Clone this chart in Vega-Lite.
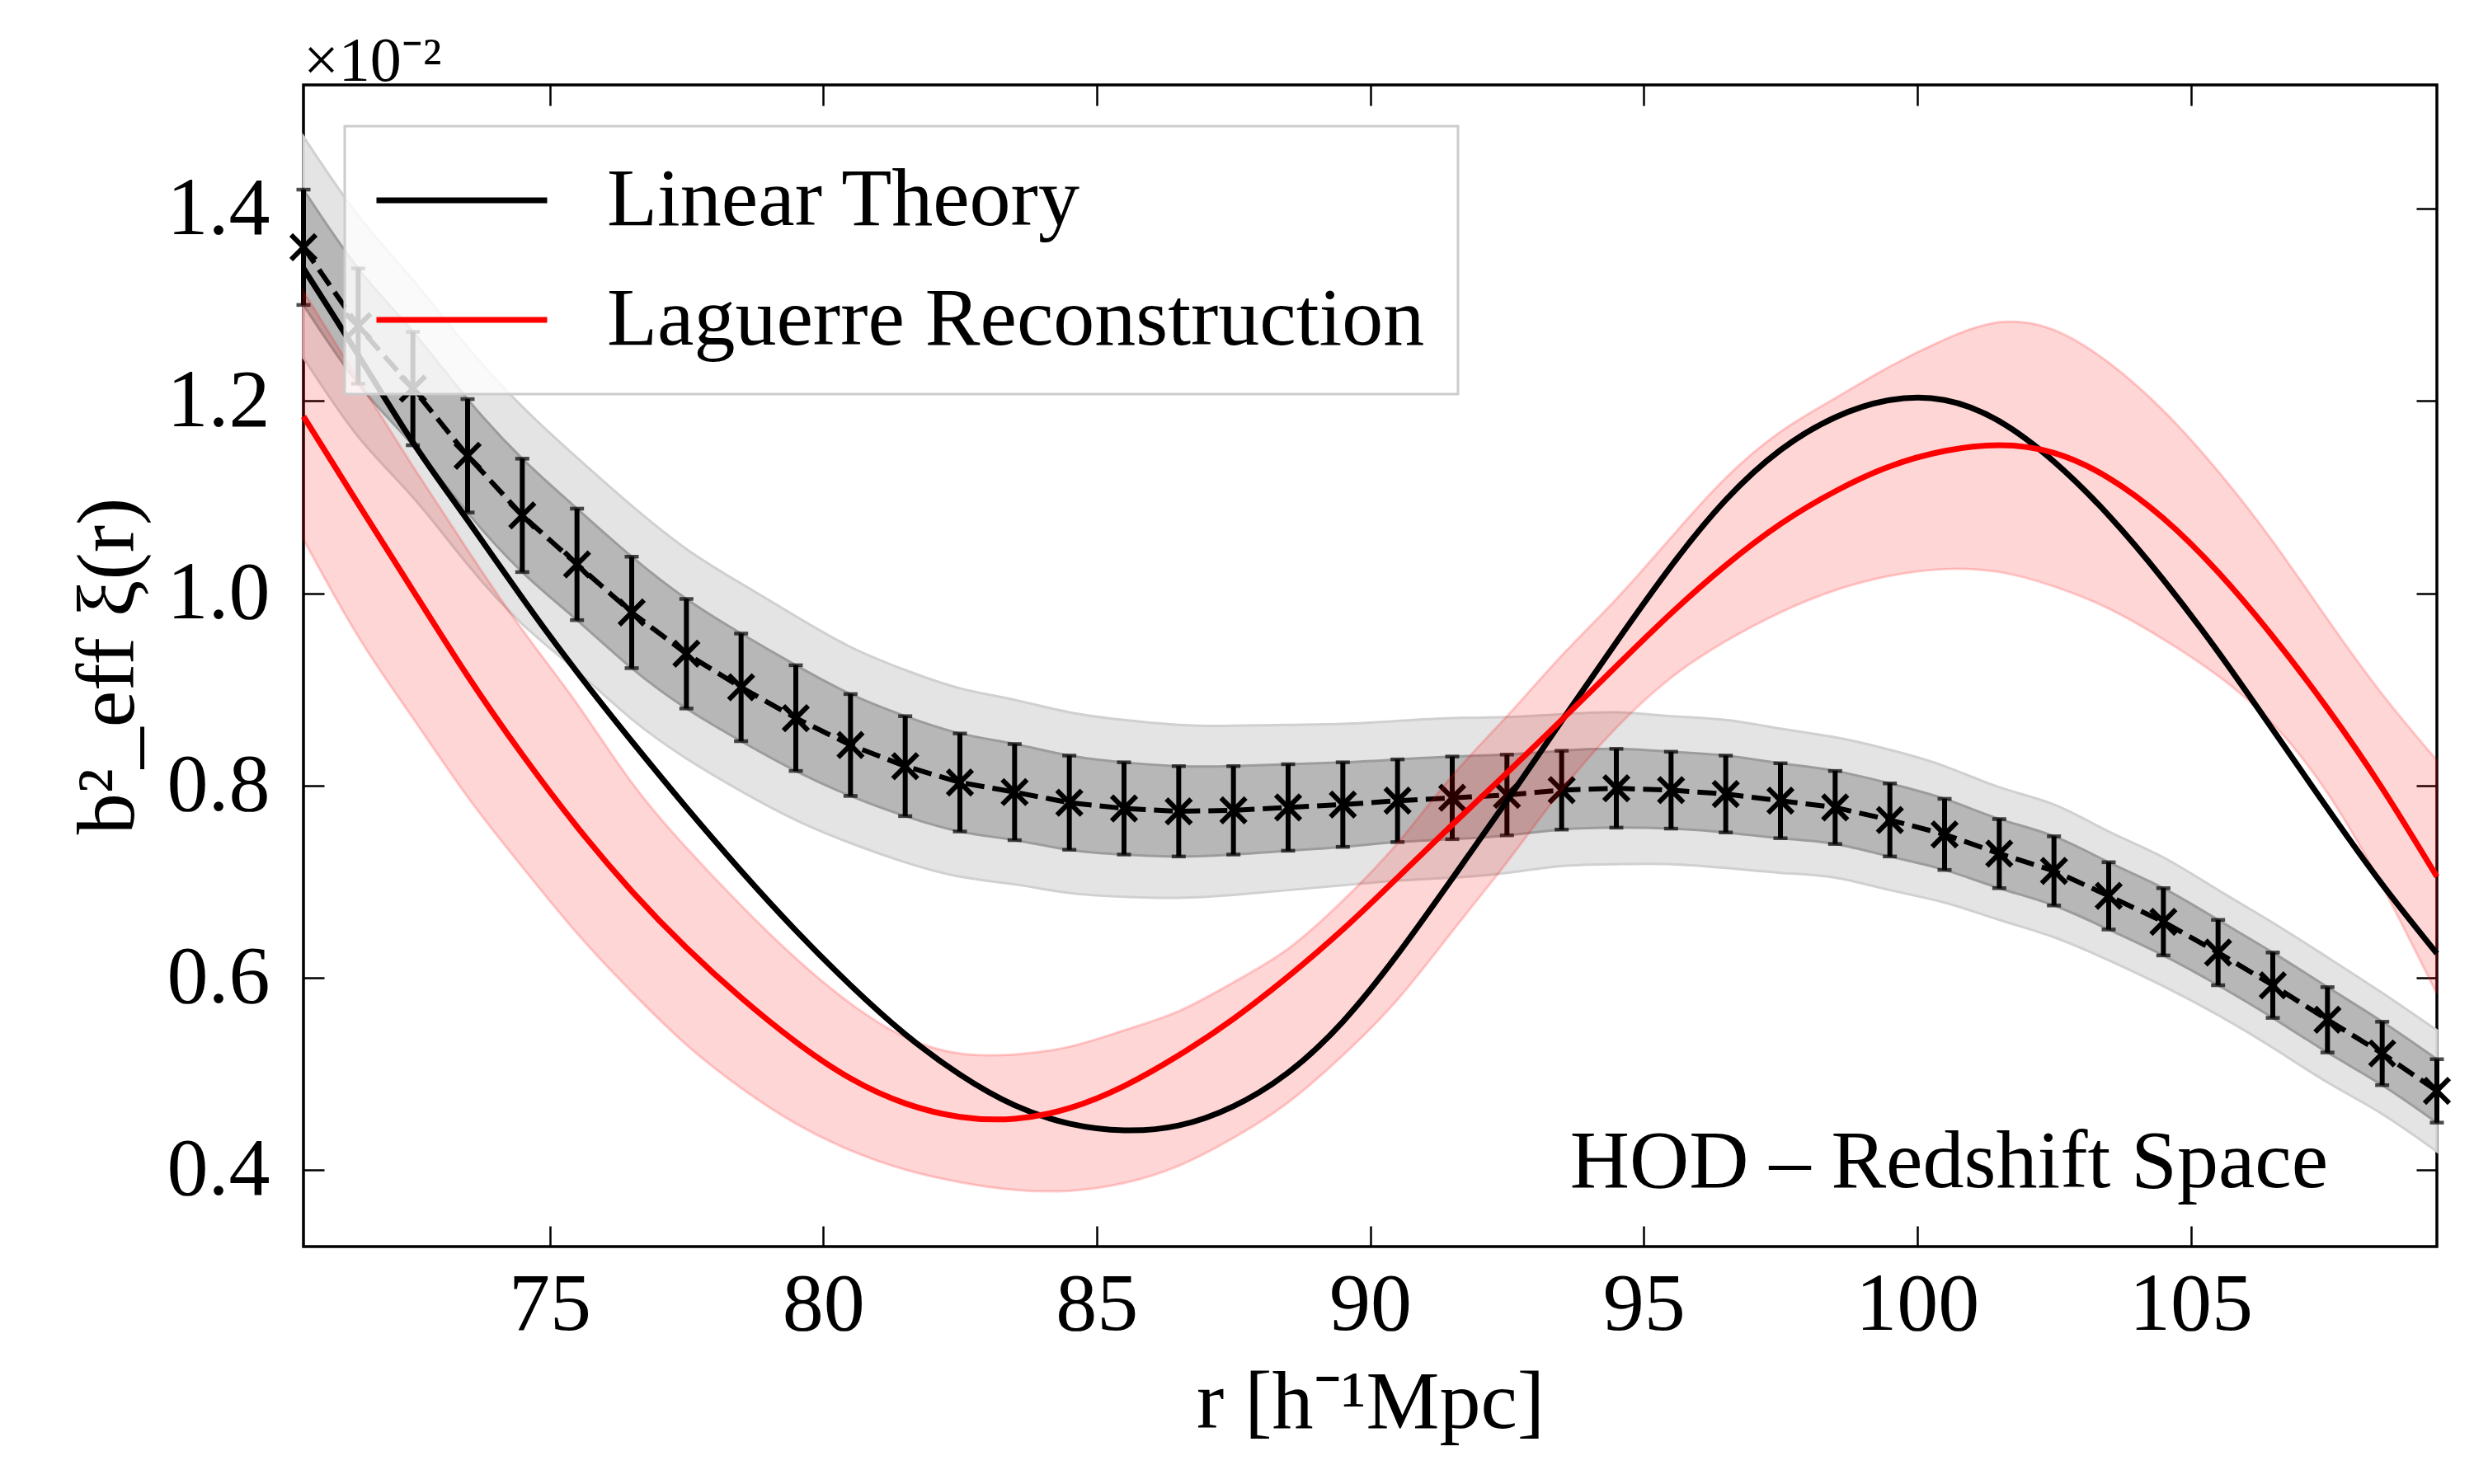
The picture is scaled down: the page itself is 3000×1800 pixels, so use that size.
{
  "$schema": "https://vega.github.io/schema/vega-lite/v6.json",
  "width": 2587,
  "height": 1409,
  "autosize": {"type": "none"},
  "padding": {"left": 368, "top": 103, "right": 45, "bottom": 288},
  "background": "white",
  "title": {"text": "×10⁻²", "anchor": "start", "frame": "group", "fontSize": 76, "fontWeight": "normal", "font": "Liberation Serif, serif", "offset": -12, "color": "black"},
  "config": {
    "font": "Liberation Serif, serif",
    "view": {"stroke": "black", "strokeWidth": 3.5},
    "axis": {
      "domain": false, "grid": false,
      "tickColor": "black", "tickWidth": 2.5, "tickSize": -25,
      "labelFont": "Liberation Serif, serif", "labelFontSize": 100, "labelColor": "black",
      "titleFont": "Liberation Serif, serif", "titleFontSize": 100, "titleFontWeight": "normal", "titleColor": "black"
    }
  },
  "datasets": {
    "pts": [
      {"r": 70.5, "y": 1.360, "lo1": 1.300, "hi1": 1.420, "lo2": 1.245, "hi2": 1.475},
      {"r": 71.5, "y": 1.278, "lo1": 1.218, "hi1": 1.338, "lo2": 1.163, "hi2": 1.393},
      {"r": 72.5, "y": 1.213, "lo1": 1.154, "hi1": 1.272, "lo2": 1.100, "hi2": 1.326},
      {"r": 73.5, "y": 1.143, "lo1": 1.084, "hi1": 1.202, "lo2": 1.030, "hi2": 1.256},
      {"r": 74.5, "y": 1.081, "lo1": 1.022, "hi1": 1.140, "lo2": 0.968, "hi2": 1.194},
      {"r": 75.5, "y": 1.030, "lo1": 0.972, "hi1": 1.088, "lo2": 0.919, "hi2": 1.141},
      {"r": 76.5, "y": 0.980, "lo1": 0.922, "hi1": 1.038, "lo2": 0.869, "hi2": 1.091},
      {"r": 77.5, "y": 0.937, "lo1": 0.880, "hi1": 0.994, "lo2": 0.828, "hi2": 1.046},
      {"r": 78.5, "y": 0.902, "lo1": 0.846, "hi1": 0.958, "lo2": 0.794, "hi2": 1.010},
      {"r": 79.5, "y": 0.870, "lo1": 0.815, "hi1": 0.925, "lo2": 0.764, "hi2": 0.976},
      {"r": 80.5, "y": 0.842, "lo1": 0.789, "hi1": 0.895, "lo2": 0.740, "hi2": 0.944},
      {"r": 81.5, "y": 0.820, "lo1": 0.768, "hi1": 0.872, "lo2": 0.720, "hi2": 0.920},
      {"r": 82.5, "y": 0.803, "lo1": 0.752, "hi1": 0.854, "lo2": 0.705, "hi2": 0.901},
      {"r": 83.5, "y": 0.793, "lo1": 0.743, "hi1": 0.843, "lo2": 0.697, "hi2": 0.889},
      {"r": 84.5, "y": 0.782, "lo1": 0.733, "hi1": 0.831, "lo2": 0.688, "hi2": 0.876},
      {"r": 85.5, "y": 0.776, "lo1": 0.728, "hi1": 0.824, "lo2": 0.684, "hi2": 0.868},
      {"r": 86.5, "y": 0.773, "lo1": 0.726, "hi1": 0.820, "lo2": 0.683, "hi2": 0.863},
      {"r": 87.5, "y": 0.774, "lo1": 0.728, "hi1": 0.820, "lo2": 0.686, "hi2": 0.862},
      {"r": 88.5, "y": 0.777, "lo1": 0.732, "hi1": 0.822, "lo2": 0.691, "hi2": 0.863},
      {"r": 89.5, "y": 0.780, "lo1": 0.736, "hi1": 0.824, "lo2": 0.696, "hi2": 0.864},
      {"r": 90.5, "y": 0.784, "lo1": 0.741, "hi1": 0.827, "lo2": 0.701, "hi2": 0.867},
      {"r": 91.5, "y": 0.787, "lo1": 0.744, "hi1": 0.830, "lo2": 0.704, "hi2": 0.870},
      {"r": 92.5, "y": 0.790, "lo1": 0.748, "hi1": 0.832, "lo2": 0.709, "hi2": 0.871},
      {"r": 93.5, "y": 0.795, "lo1": 0.754, "hi1": 0.836, "lo2": 0.716, "hi2": 0.874},
      {"r": 94.5, "y": 0.797, "lo1": 0.756, "hi1": 0.838, "lo2": 0.718, "hi2": 0.876},
      {"r": 95.5, "y": 0.795, "lo1": 0.755, "hi1": 0.835, "lo2": 0.718, "hi2": 0.872},
      {"r": 96.5, "y": 0.791, "lo1": 0.751, "hi1": 0.831, "lo2": 0.714, "hi2": 0.868},
      {"r": 97.5, "y": 0.784, "lo1": 0.745, "hi1": 0.823, "lo2": 0.709, "hi2": 0.859},
      {"r": 98.5, "y": 0.777, "lo1": 0.739, "hi1": 0.815, "lo2": 0.704, "hi2": 0.850},
      {"r": 99.5, "y": 0.764, "lo1": 0.726, "hi1": 0.802, "lo2": 0.691, "hi2": 0.837},
      {"r": 100.5, "y": 0.749, "lo1": 0.712, "hi1": 0.786, "lo2": 0.678, "hi2": 0.820},
      {"r": 101.5, "y": 0.729, "lo1": 0.693, "hi1": 0.765, "lo2": 0.660, "hi2": 0.798},
      {"r": 102.5, "y": 0.711, "lo1": 0.675, "hi1": 0.747, "lo2": 0.642, "hi2": 0.780},
      {"r": 103.5, "y": 0.685, "lo1": 0.650, "hi1": 0.720, "lo2": 0.618, "hi2": 0.752},
      {"r": 104.5, "y": 0.658, "lo1": 0.623, "hi1": 0.693, "lo2": 0.591, "hi2": 0.725},
      {"r": 105.5, "y": 0.626, "lo1": 0.592, "hi1": 0.660, "lo2": 0.561, "hi2": 0.691},
      {"r": 106.5, "y": 0.592, "lo1": 0.558, "hi1": 0.626, "lo2": 0.527, "hi2": 0.657},
      {"r": 107.5, "y": 0.556, "lo1": 0.522, "hi1": 0.590, "lo2": 0.491, "hi2": 0.621},
      {"r": 108.5, "y": 0.521, "lo1": 0.488, "hi1": 0.554, "lo2": 0.458, "hi2": 0.584},
      {"r": 109.5, "y": 0.482, "lo1": 0.449, "hi1": 0.515, "lo2": 0.419, "hi2": 0.545}
    ],
    "band": [
      {"r": 70.5, "lo": 1.056, "hi": 1.314}, {"r": 71.5, "lo": 0.955, "hi": 1.222},
      {"r": 72.5, "lo": 0.870, "hi": 1.132}, {"r": 73.5, "lo": 0.788, "hi": 1.045},
      {"r": 74.5, "lo": 0.715, "hi": 0.962}, {"r": 75.5, "lo": 0.646, "hi": 0.885},
      {"r": 76.5, "lo": 0.585, "hi": 0.803}, {"r": 77.5, "lo": 0.530, "hi": 0.735},
      {"r": 78.5, "lo": 0.485, "hi": 0.675}, {"r": 79.5, "lo": 0.448, "hi": 0.620},
      {"r": 80.5, "lo": 0.420, "hi": 0.573}, {"r": 81.5, "lo": 0.400, "hi": 0.538},
      {"r": 82.5, "lo": 0.387, "hi": 0.521}, {"r": 83.5, "lo": 0.379, "hi": 0.520},
      {"r": 84.5, "lo": 0.378, "hi": 0.528}, {"r": 85.5, "lo": 0.386, "hi": 0.545},
      {"r": 86.5, "lo": 0.404, "hi": 0.565}, {"r": 87.5, "lo": 0.433, "hi": 0.595},
      {"r": 88.5, "lo": 0.470, "hi": 0.630}, {"r": 89.5, "lo": 0.519, "hi": 0.680},
      {"r": 90.5, "lo": 0.577, "hi": 0.740}, {"r": 91.5, "lo": 0.648, "hi": 0.810},
      {"r": 92.5, "lo": 0.720, "hi": 0.872}, {"r": 93.5, "lo": 0.795, "hi": 0.935},
      {"r": 94.5, "lo": 0.860, "hi": 0.994}, {"r": 95.5, "lo": 0.912, "hi": 1.058},
      {"r": 96.5, "lo": 0.950, "hi": 1.120}, {"r": 97.5, "lo": 0.980, "hi": 1.168},
      {"r": 98.5, "lo": 1.003, "hi": 1.203}, {"r": 99.5, "lo": 1.018, "hi": 1.236},
      {"r": 100.5, "lo": 1.025, "hi": 1.264}, {"r": 101.5, "lo": 1.022, "hi": 1.282},
      {"r": 102.5, "lo": 1.007, "hi": 1.274}, {"r": 103.5, "lo": 0.984, "hi": 1.240},
      {"r": 104.5, "lo": 0.952, "hi": 1.190}, {"r": 105.5, "lo": 0.914, "hi": 1.127},
      {"r": 106.5, "lo": 0.864, "hi": 1.054}, {"r": 107.5, "lo": 0.792, "hi": 0.973},
      {"r": 108.5, "lo": 0.695, "hi": 0.895}, {"r": 109.5, "lo": 0.583, "hi": 0.826}
    ],
    "theory": [
      {"r": 70.5, "model": "Linear Theory", "v": 1.338}, {"r": 71.5, "model": "Linear Theory", "v": 1.248},
      {"r": 72.5, "model": "Linear Theory", "v": 1.157}, {"r": 73.5, "model": "Linear Theory", "v": 1.076},
      {"r": 74.5, "model": "Linear Theory", "v": 0.995}, {"r": 75.5, "model": "Linear Theory", "v": 0.918},
      {"r": 76.5, "model": "Linear Theory", "v": 0.846}, {"r": 77.5, "model": "Linear Theory", "v": 0.777},
      {"r": 78.5, "model": "Linear Theory", "v": 0.711}, {"r": 79.5, "model": "Linear Theory", "v": 0.649},
      {"r": 80.5, "model": "Linear Theory", "v": 0.592}, {"r": 81.5, "model": "Linear Theory", "v": 0.541},
      {"r": 82.5, "model": "Linear Theory", "v": 0.499}, {"r": 83.5, "model": "Linear Theory", "v": 0.467},
      {"r": 84.5, "model": "Linear Theory", "v": 0.448}, {"r": 85.5, "model": "Linear Theory", "v": 0.441},
      {"r": 86.5, "model": "Linear Theory", "v": 0.446}, {"r": 87.5, "model": "Linear Theory", "v": 0.466},
      {"r": 88.5, "model": "Linear Theory", "v": 0.501}, {"r": 89.5, "model": "Linear Theory", "v": 0.554},
      {"r": 90.5, "model": "Linear Theory", "v": 0.624}, {"r": 91.5, "model": "Linear Theory", "v": 0.703},
      {"r": 92.5, "model": "Linear Theory", "v": 0.784}, {"r": 93.5, "model": "Linear Theory", "v": 0.867},
      {"r": 94.5, "model": "Linear Theory", "v": 0.949}, {"r": 95.5, "model": "Linear Theory", "v": 1.028},
      {"r": 96.5, "model": "Linear Theory", "v": 1.097}, {"r": 97.5, "model": "Linear Theory", "v": 1.149},
      {"r": 98.5, "model": "Linear Theory", "v": 1.183}, {"r": 99.5, "model": "Linear Theory", "v": 1.201},
      {"r": 100.5, "model": "Linear Theory", "v": 1.201}, {"r": 101.5, "model": "Linear Theory", "v": 1.179},
      {"r": 102.5, "model": "Linear Theory", "v": 1.137}, {"r": 103.5, "model": "Linear Theory", "v": 1.081},
      {"r": 104.5, "model": "Linear Theory", "v": 1.014}, {"r": 105.5, "model": "Linear Theory", "v": 0.939},
      {"r": 106.5, "model": "Linear Theory", "v": 0.858}, {"r": 107.5, "model": "Linear Theory", "v": 0.776},
      {"r": 108.5, "model": "Linear Theory", "v": 0.697}, {"r": 109.5, "model": "Linear Theory", "v": 0.625},
      {"r": 70.5, "model": "Laguerre Reconstruction", "v": 1.184}, {"r": 71.5, "model": "Laguerre Reconstruction", "v": 1.093},
      {"r": 72.5, "model": "Laguerre Reconstruction", "v": 1.003}, {"r": 73.5, "model": "Laguerre Reconstruction", "v": 0.914},
      {"r": 74.5, "model": "Laguerre Reconstruction", "v": 0.832}, {"r": 75.5, "model": "Laguerre Reconstruction", "v": 0.757},
      {"r": 76.5, "model": "Laguerre Reconstruction", "v": 0.690}, {"r": 77.5, "model": "Laguerre Reconstruction", "v": 0.631},
      {"r": 78.5, "model": "Laguerre Reconstruction", "v": 0.579}, {"r": 79.5, "model": "Laguerre Reconstruction", "v": 0.533},
      {"r": 80.5, "model": "Laguerre Reconstruction", "v": 0.495}, {"r": 81.5, "model": "Laguerre Reconstruction", "v": 0.469},
      {"r": 82.5, "model": "Laguerre Reconstruction", "v": 0.455}, {"r": 83.5, "model": "Laguerre Reconstruction", "v": 0.453},
      {"r": 84.5, "model": "Laguerre Reconstruction", "v": 0.464}, {"r": 85.5, "model": "Laguerre Reconstruction", "v": 0.487},
      {"r": 86.5, "model": "Laguerre Reconstruction", "v": 0.519}, {"r": 87.5, "model": "Laguerre Reconstruction", "v": 0.557},
      {"r": 88.5, "model": "Laguerre Reconstruction", "v": 0.601}, {"r": 89.5, "model": "Laguerre Reconstruction", "v": 0.650},
      {"r": 90.5, "model": "Laguerre Reconstruction", "v": 0.704}, {"r": 91.5, "model": "Laguerre Reconstruction", "v": 0.759},
      {"r": 92.5, "model": "Laguerre Reconstruction", "v": 0.813}, {"r": 93.5, "model": "Laguerre Reconstruction", "v": 0.868},
      {"r": 94.5, "model": "Laguerre Reconstruction", "v": 0.924}, {"r": 95.5, "model": "Laguerre Reconstruction", "v": 0.979},
      {"r": 96.5, "model": "Laguerre Reconstruction", "v": 1.029}, {"r": 97.5, "model": "Laguerre Reconstruction", "v": 1.072},
      {"r": 98.5, "model": "Laguerre Reconstruction", "v": 1.106}, {"r": 99.5, "model": "Laguerre Reconstruction", "v": 1.132},
      {"r": 100.5, "model": "Laguerre Reconstruction", "v": 1.148}, {"r": 101.5, "model": "Laguerre Reconstruction", "v": 1.154},
      {"r": 102.5, "model": "Laguerre Reconstruction", "v": 1.146}, {"r": 103.5, "model": "Laguerre Reconstruction", "v": 1.120},
      {"r": 104.5, "model": "Laguerre Reconstruction", "v": 1.078}, {"r": 105.5, "model": "Laguerre Reconstruction", "v": 1.022},
      {"r": 106.5, "model": "Laguerre Reconstruction", "v": 0.955}, {"r": 107.5, "model": "Laguerre Reconstruction", "v": 0.880},
      {"r": 108.5, "model": "Laguerre Reconstruction", "v": 0.797}, {"r": 109.5, "model": "Laguerre Reconstruction", "v": 0.705}
    ]
  },
  "layer": [
    {
      "data": {"name": "pts"},
      "mark": {"type": "area", "interpolate": "natural", "fill": "#e4e4e4", "stroke": "#d0d0d0", "strokeWidth": 3},
      "encoding": {
        "x": {"field": "r", "type": "quantitative", "scale": {"domain": [70.5, 109.5], "nice": false, "zero": false},
              "axis": {"orient": "bottom", "values": [75, 80, 85, 90, 95, 100, 105], "format": "d", "labelPadding": 46, "title": "r [h⁻¹Mpc]", "titlePadding": 20}},
        "y": {"field": "lo2", "type": "quantitative", "scale": {"domain": [0.32, 1.529], "nice": false, "zero": false},
              "axis": {"orient": "left", "values": [0.4, 0.6, 0.8, 1.0, 1.2, 1.4], "format": ".1f", "labelPadding": 66, "title": "b²_eff ξ(r)", "titlePadding": 20}},
        "y2": {"field": "hi2"}
      }
    },
    {
      "data": {"name": "pts"},
      "mark": {"type": "area", "interpolate": "natural", "fill": "#b7b7b7", "stroke": "#9c9c9c", "strokeWidth": 3},
      "encoding": {
        "x": {"field": "r", "type": "quantitative", "axis": {"orient": "top", "values": [75, 80, 85, 90, 95, 100, 105], "labels": false, "title": null}},
        "y": {"field": "lo1", "type": "quantitative", "axis": {"orient": "right", "values": [0.4, 0.6, 0.8, 1.0, 1.2, 1.4], "labels": false, "title": null}},
        "y2": {"field": "hi1"}
      }
    },
    {
      "data": {"name": "pts"},
      "mark": {"type": "errorbar", "color": "black", "thickness": 6, "ticks": {"size": 17, "thickness": 4.5}},
      "encoding": {
        "x": {"field": "r", "type": "quantitative", "axis": null},
        "y": {"field": "lo1", "type": "quantitative", "axis": null},
        "y2": {"field": "hi1"}
      }
    },
    {
      "data": {"name": "pts"},
      "mark": {"type": "line", "color": "black", "strokeWidth": 6, "strokeDash": [23, 10]},
      "encoding": {
        "x": {"field": "r", "type": "quantitative", "axis": null},
        "y": {"field": "y", "type": "quantitative", "axis": null}
      }
    },
    {
      "data": {"name": "pts"},
      "mark": {"type": "point", "shape": "M-1,-1L1,1M-1,1L1,-1", "size": 900, "filled": false, "stroke": "black", "strokeWidth": 6, "opacity": 1},
      "encoding": {
        "x": {"field": "r", "type": "quantitative", "axis": null},
        "y": {"field": "y", "type": "quantitative", "axis": null}
      }
    },
    {
      "data": {"name": "band"},
      "mark": {"type": "area", "interpolate": "natural", "fill": "#ff0000", "fillOpacity": 0.16, "stroke": "#ff0000", "strokeOpacity": 0.18, "strokeWidth": 3},
      "encoding": {
        "x": {"field": "r", "type": "quantitative", "axis": null},
        "y": {"field": "lo", "type": "quantitative", "axis": null},
        "y2": {"field": "hi"}
      }
    },
    {
      "data": {"name": "theory"},
      "mark": {"type": "line", "interpolate": "natural", "strokeWidth": 7},
      "encoding": {
        "x": {"field": "r", "type": "quantitative", "axis": null},
        "y": {"field": "v", "type": "quantitative", "axis": null},
        "color": {
          "field": "model", "type": "nominal",
          "scale": {"domain": ["Linear Theory", "Laguerre Reconstruction"], "range": ["#000000", "#ff0000"]},
          "legend": {
            "title": null, "orient": "none", "legendX": 50, "legendY": 50,
            "fillColor": "rgba(255,255,255,0.8)", "strokeColor": "#cccccc", "cornerRadius": 0,
            "padding": 40, "symbolType": "M-3,0H3", "symbolSize": 4761, "symbolStrokeWidth": 7, "symbolOffset": 52,
            "labelFont": "Liberation Serif, serif", "labelFontSize": 100, "labelColor": "black", "labelLimit": 3000, "labelOffset": 126,
            "rowPadding": 45,
            "encode": {"legend": {"update": {"strokeWidth": {"value": 3}}}}
          }
        }
      }
    },
    {
      "data": {"values": [{"label": "HOD – Redshift Space"}]},
      "mark": {"type": "text", "align": "right", "baseline": "alphabetic", "fontSize": 100, "font": "Liberation Serif, serif", "color": "black",
               "x": {"expr": "width * 0.949"}, "y": {"expr": "height * 0.949"}},
      "encoding": {"text": {"field": "label"}}
    }
  ],
  "resolve": {"axis": {"x": "independent", "y": "independent"}}
}
